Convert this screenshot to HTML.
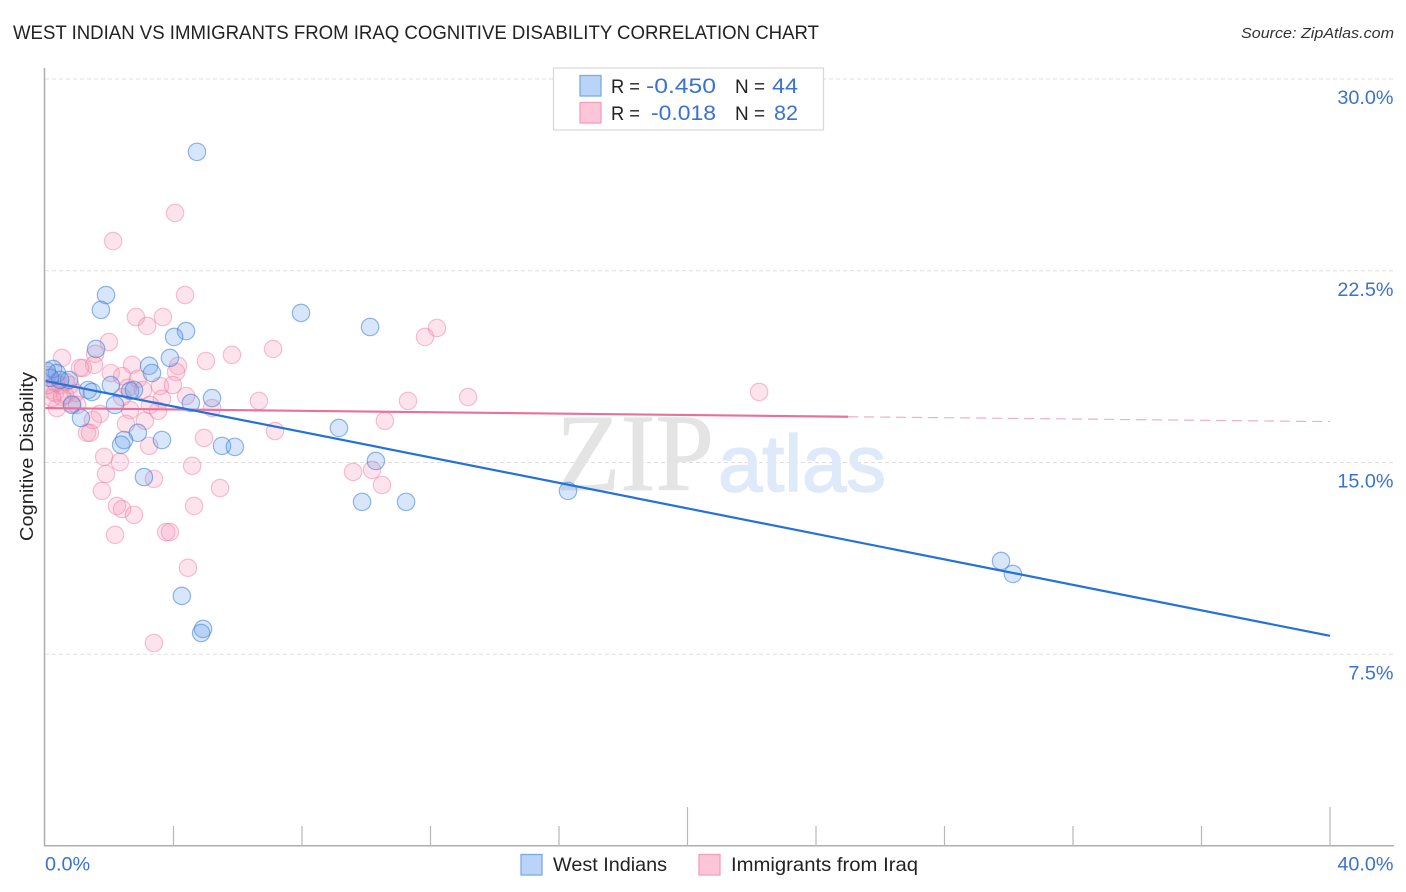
<!DOCTYPE html>
<html lang="en">
<head>
<meta charset="utf-8">
<title>West Indian vs Immigrants from Iraq Cognitive Disability Correlation Chart</title>
<style>
  html, body { margin: 0; padding: 0; background: #fff; width: 1406px; height: 892px; overflow: hidden; }
  svg { display: block; font-family: "Liberation Sans", sans-serif; }
</style>
</head>
<body>
<svg id="chart" xmlns="http://www.w3.org/2000/svg" width="1406" height="892" viewBox="0 0 1406 892">
  <defs>
    <clipPath id="plot-clip"><rect x="45.5" y="60" width="1349" height="786"/></clipPath>
  </defs>
  <rect x="0" y="0" width="1406" height="892" fill="#ffffff"/>
  <text x="13" y="39" font-size="19.5" fill="#222" textLength="806" lengthAdjust="spacingAndGlyphs">WEST INDIAN VS IMMIGRANTS FROM IRAQ COGNITIVE DISABILITY CORRELATION CHART</text>
  <text x="1394" y="38" font-size="15" font-style="italic" fill="#333" text-anchor="end" textLength="153" lengthAdjust="spacingAndGlyphs">Source: ZipAtlas.com</text>
  <text transform="translate(33,456.5) rotate(-90)" font-size="18.5" fill="#222" text-anchor="middle" textLength="169" lengthAdjust="spacingAndGlyphs">Cognitive Disability</text>

  <g id="grid"></g>

  <text x="556" y="490" font-family="'Liberation Serif', serif" font-size="110" fill="#e4e4e4" stroke="#e4e4e4" stroke-width="0.8" textLength="158" lengthAdjust="spacingAndGlyphs">ZIP</text>
  <text x="718" y="491" font-size="80" fill="#deeafa" stroke="#deeafa" stroke-width="1.6" textLength="168" lengthAdjust="spacingAndGlyphs">atlas</text>

  <g id="axes"></g>
  <g id="points-iraq" clip-path="url(#plot-clip)"></g>
  <g id="points-west" clip-path="url(#plot-clip)"></g>
  <g id="trends" clip-path="url(#plot-clip)"></g>
  <g id="labels"></g>

  <g>
    <rect x="553.5" y="68" width="270" height="62" fill="#fff" stroke="#d8d8d8" stroke-width="1.2"/>
    <rect x="580" y="75.5" width="21" height="20.5" fill="#b9d4f7" stroke="#7aaaea" stroke-width="1.3"/>
    <rect x="580" y="102.5" width="21" height="20.5" fill="#fcc6d8" stroke="#f2a0ba" stroke-width="1.3"/>
    <text x="611" y="93" font-size="19.5" fill="#222" textLength="29" lengthAdjust="spacingAndGlyphs">R =</text>
    <text x="646" y="93" font-size="21" fill="#3a72d2" textLength="70" lengthAdjust="spacingAndGlyphs">-0.450</text>
    <text x="735" y="93" font-size="19.5" fill="#222" textLength="30" lengthAdjust="spacingAndGlyphs">N =</text>
    <text x="772" y="93" font-size="21" fill="#3a72d2" textLength="26" lengthAdjust="spacingAndGlyphs">44</text>
    <text x="611" y="120" font-size="19.5" fill="#222" textLength="29" lengthAdjust="spacingAndGlyphs">R =</text>
    <text x="651" y="120" font-size="21" fill="#3a72d2" textLength="65" lengthAdjust="spacingAndGlyphs">-0.018</text>
    <text x="735" y="120" font-size="19.5" fill="#222" textLength="30" lengthAdjust="spacingAndGlyphs">N =</text>
    <text x="774" y="120" font-size="21" fill="#3a72d2" textLength="24" lengthAdjust="spacingAndGlyphs">82</text>
  </g>

  <g>
    <rect x="521" y="854.5" width="21" height="20.5" fill="#b9d4f7" stroke="#7aaaea" stroke-width="1.3"/>
    <text x="553" y="871" font-size="19.5" fill="#222" textLength="114" lengthAdjust="spacingAndGlyphs">West Indians</text>
    <rect x="699" y="854.5" width="21" height="20.5" fill="#fcc6d8" stroke="#f2a0ba" stroke-width="1.3"/>
    <text x="731" y="871" font-size="19.5" fill="#222" textLength="187" lengthAdjust="spacingAndGlyphs">Immigrants from Iraq</text>
  </g>
</svg>
<script>
const westIndianX = [4.73,1.90,1.74,7.97,10.12,4.39,4.02,1.59,3.89,3.24,3.33,0.25,0.37,0.06,0.75,2.05,1.34,1.46,2.65,2.77,5.20,4.54,2.18,0.84,1.12,9.15,2.89,3.64,2.46,2.37,5.51,5.91,10.30,3.08,9.87,11.24,16.28,29.76,30.13,4.26,4.92,4.86,0.47,0.16];
const westIndianY = [27.15,21.55,20.97,20.85,20.30,20.14,19.91,19.44,19.09,18.78,18.50,18.66,18.50,18.58,18.23,18.03,17.84,17.76,17.80,17.84,17.52,17.33,17.25,17.25,16.74,16.35,16.16,15.88,15.88,15.69,15.65,15.61,15.06,14.43,13.46,13.46,13.89,11.15,10.64,9.78,8.49,8.33,18.23,18.31];
const iraqX = [4.36,2.83,3.67,3.18,1.99,7.10,5.82,5.01,0.53,1.56,1.53,1.18,1.09,2.71,4.14,4.08,2.05,2.40,2.89,3.58,3.98,2.58,3.05,3.64,3.27,4.39,6.66,5.20,3.52,2.65,1.71,0.37,3.11,2.52,1.49,1.31,1.40,7.16,3.24,4.95,1.84,2.33,4.58,1.90,3.39,5.45,1.77,2.24,2.40,2.77,4.64,2.18,3.77,3.89,4.05,2.12,4.45,3.39,11.83,12.20,13.17,11.30,10.58,9.59,10.18,10.49,22.23,0.09,0.16,0.31,0.47,0.62,0.84,0.78,0.22,0.34,0.96,1.00,0.65,0.09,0.53,2.40];
const iraqY = [21.55,20.69,20.69,20.34,19.71,19.44,19.21,18.97,19.09,19.25,18.82,18.70,18.70,18.82,18.78,18.54,18.50,18.38,18.27,17.99,18.03,17.92,17.84,17.49,17.25,17.60,17.41,17.13,17.02,17.05,16.90,17.13,16.63,16.51,16.66,16.16,16.16,16.23,15.65,15.96,15.22,15.02,14.87,14.55,14.36,14.00,13.89,13.30,13.18,12.95,13.30,12.17,12.28,12.28,24.76,23.66,10.88,7.94,19.91,20.26,17.56,17.41,16.63,14.63,14.71,14.12,17.76,18.42,17.84,17.72,18.03,17.64,17.29,18.03,17.52,18.11,17.72,17.25,18.15,18.03,17.56,17.56];
const westTrendX = [0, 40];
const westTrendY = [18.19, 8.22];
const iraqTrendSolidX = [0, 25];
const iraqTrendSolidY = [17.13, 16.79];
const iraqTrendDashX = [25, 40];
const iraqTrendDashY = [16.79, 16.6];
const xTickValues = [0,4,8,12,16,20,24,28,32,36,40];
const xMajorTicks = [20,40];
const xTickLabels = ["0.0%","40.0%"];
const xLabelValues = [0,40];
const yTickValues = [30,22.5,15,7.5];
const yTickLabels = ["30.0%","22.5%","15.0%","7.5%"];

const NS = "http://www.w3.org/2000/svg";
const sx = v => 45 + v * (1330 - 45) / 40;
const sy = v => 846 - v * (846 - 79) / 30;

function mk(tag, parent, attrs) {
  const el = document.createElementNS(NS, tag);
  for (const k in attrs) el.setAttribute(k, attrs[k]);
  parent.appendChild(el);
  return el;
}

const grid = document.getElementById("grid");
const axes = document.getElementById("axes");
const labels = document.getElementById("labels");
const trends = document.getElementById("trends");

yTickValues.forEach((v, i) => {
  const g = mk("line", grid, { x1: 45, x2: 1394, y1: sy(v), y2: sy(v), stroke: "#dfdfdf", "stroke-width": 1, "stroke-dasharray": "4 3" });
  
  
  const t = mk("text", labels, { x: 1393.5, y: sy(v) + 25, "font-size": 19.8, fill: "#3a72d2", "text-anchor": "end" });
  t.textContent = yTickLabels[i];
  
  
});

const yAxis = mk("line", axes, { x1: 44.5, x2: 44.5, y1: 68, y2: 846, stroke: "#aeaeae", "stroke-width": 1.5 });


const xAxis = mk("line", axes, { x1: 44, x2: 1394, y1: 845.7, y2: 845.7, stroke: "#aeaeae", "stroke-width": 1.5 });



xTickValues.filter(v => v > 0).forEach(v => {
  const top = xMajorTicks.includes(v) ? 807 : 826;
  const tick = mk("line", axes, { x1: sx(v), x2: sx(v), y1: top, y2: 846, stroke: "#b8b8b8", "stroke-width": 1.2 });
  
  
});

xLabelValues.forEach((v, i) => {
  const t = mk("text", labels, { x: v === 0 ? sx(v) : 1393.5, y: 870.5, "font-size": 19.8, fill: "#3a72d2", "text-anchor": v === 0 ? "start" : "end" });
  t.textContent = xTickLabels[i];
  
  
});

const iraqLayer = document.getElementById("points-iraq");
iraqX.forEach((x, i) => {
  const c = mk("circle", iraqLayer, { cx: sx(x), cy: sy(iraqY[i]), r: 8.7, fill: "rgba(248,150,180,0.26)", stroke: "rgba(238,120,158,0.45)", "stroke-width": 1.2 });
  
  
});

const westLayer = document.getElementById("points-west");
westIndianX.forEach((x, i) => {
  const c = mk("circle", westLayer, { cx: sx(x), cy: sy(westIndianY[i]), r: 8.7, fill: "rgba(100,160,235,0.26)", stroke: "rgba(60,125,215,0.55)", "stroke-width": 1.2 });
  
  
});

const pd = mk("line", trends, { x1: sx(iraqTrendDashX[0]), y1: sy(iraqTrendDashY[0]), x2: sx(iraqTrendDashX[1]), y2: sy(iraqTrendDashY[1]), stroke: "#efb0c5", "stroke-width": 1.2, "stroke-dasharray": "10 6" });


const ps = mk("line", trends, { x1: sx(iraqTrendSolidX[0]), y1: sy(iraqTrendSolidY[0]), x2: sx(iraqTrendSolidX[1]), y2: sy(iraqTrendSolidY[1]), stroke: "#ea6f9b", "stroke-width": 2.2 });


const bs = mk("line", trends, { x1: sx(westTrendX[0]), y1: sy(westTrendY[0]), x2: sx(westTrendX[1]), y2: sy(westTrendY[1]), stroke: "#2272d9", "stroke-width": 2.2 });


</script>
</body>
</html>
